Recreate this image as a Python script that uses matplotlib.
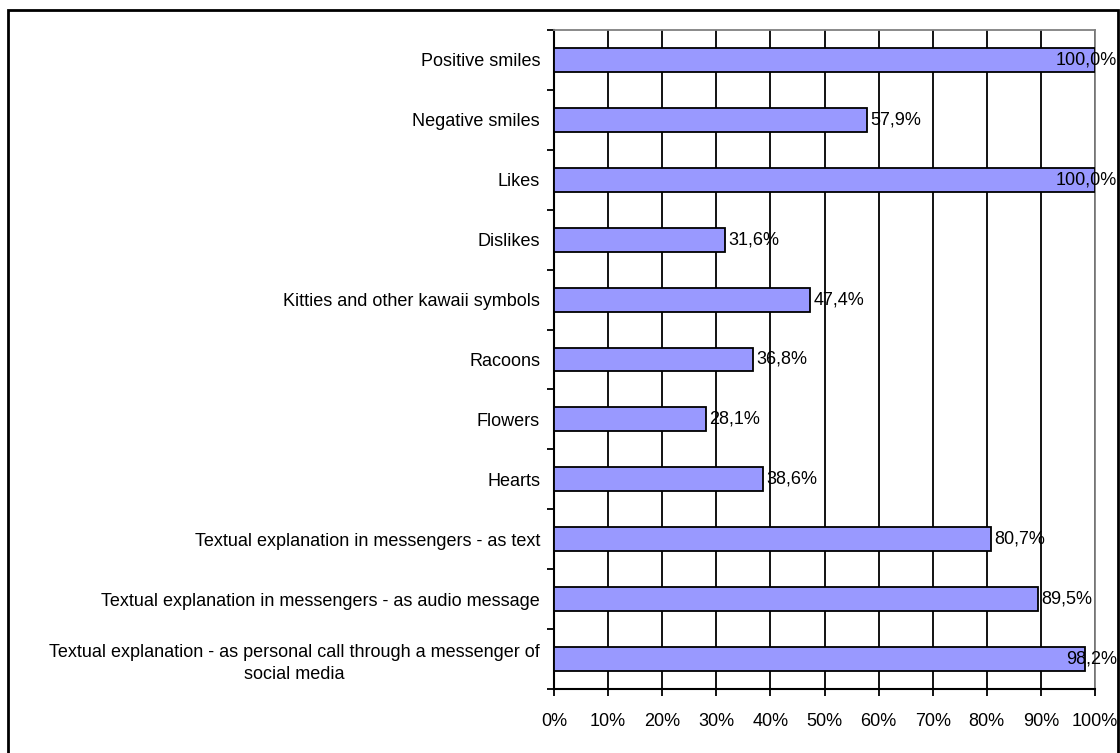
import matplotlib.pyplot as plt
import numpy as np
from matplotlib.patches import Rectangle
from matplotlib.ticker import FixedLocator, PercentFormatter

plt.rcParams["font.family"] = ["Liberation Sans", "DejaVu Sans"]

categories = [
    "Positive smiles",
    "Negative smiles",
    "Likes",
    "Dislikes",
    "Kitties and other kawaii symbols",
    "Racoons",
    "Flowers",
    "Hearts",
    "Textual explanation in messengers - as text",
    "Textual explanation in messengers - as audio message",
    "Textual explanation - as personal call through a messenger of\nsocial media",
]
values = [100.0, 57.9, 100.0, 31.6, 47.4, 36.8, 28.1, 38.6, 80.7, 89.5, 98.2]
x_ticks = [0, 10, 20, 30, 40, 50, 60, 70, 80, 90, 100]

W, H = 1120, 753
fs = 13
fig = plt.figure(figsize=(W / 100, H / 100), dpi=100)
# plot area in pixel coordinates of the reference
left, right, top, bottom = 554, 1095, 30, 689
ax = fig.add_axes([left / W, 1 - bottom / H, (right - left) / W, (bottom - top) / H])

n = len(categories)
pos = np.arange(n)
ax.barh(pos, values, height=0.4, color="#9999FF", edgecolor="black", linewidth=1.3, zorder=3)

ax.set_xlim(0, 100)
ax.set_ylim(n - 0.5, -0.5)
ax.xaxis.set_major_locator(FixedLocator(x_ticks))
ax.xaxis.set_major_formatter(PercentFormatter(decimals=0))
ax.grid(axis="x", color="black", linewidth=1.3, zorder=1)

ax.set_yticks(pos)
ax.set_yticklabels(categories, multialignment="center", linespacing=1.35)
ax.yaxis.set_minor_locator(FixedLocator(np.arange(-0.5, n, 1.0)))
ax.tick_params(axis="y", which="major", length=0, pad=10, labelsize=fs)
ax.tick_params(axis="y", which="minor", length=5, width=1.3, direction="out")
ax.tick_params(axis="x", length=5, width=1.3, direction="out", pad=12, labelsize=fs)

for side in ("left", "bottom"):
    ax.spines[side].set_linewidth(1.5)
    ax.spines[side].set_color("black")
for side in ("right", "top"):
    ax.spines[side].set_linewidth(1.3)
    ax.spines[side].set_color("#808080")

# data labels; keep them inside the chart frame on the right
x_limit = (1117 - left) / (right - left) * 100
for y, v in zip(pos, values):
    label = f"{v:.1f}%".replace(".", ",")
    if v > 92:
        ax.text(x_limit, y, label, ha="right", va="center", fontsize=fs, zorder=4, clip_on=False)
    else:
        ax.text(v + 0.6, y, label, ha="left", va="center", fontsize=fs, zorder=4)

# outer chart frame
fig.patches.append(Rectangle((8 / W, -0.05), (1118 - 8) / W, 1.05 - 10 / H,
                             transform=fig.transFigure, fill=False,
                             edgecolor="black", linewidth=2))

fig.savefig("out.png", dpi=100)
